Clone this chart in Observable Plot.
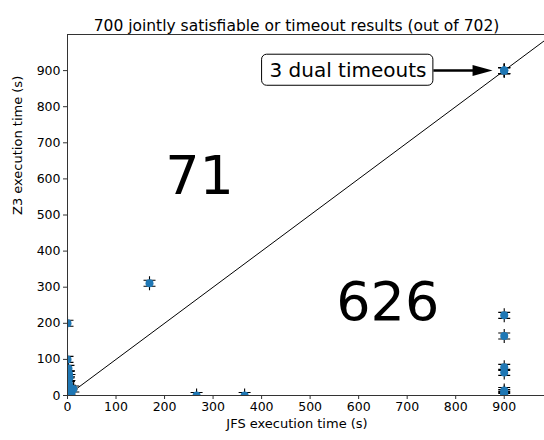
<!DOCTYPE html>
<html>
<head>
<meta charset="utf-8">
<script src="https://cdn.jsdelivr.net/npm/d3@7"></script>
<script src="https://cdn.jsdelivr.net/npm/@observablehq/plot@0.6"></script>
<style>
  html, body { margin: 0; padding: 0; background: white; }
</style>
</head>
<body>
<div id="chart"></div>
<script>
// ---- data ----
const titleText = "700 jointly satisfiable or timeout results (out of 702)";
const xLabel = "JFS execution time (s)";
const yLabel = "Z3 execution time (s)";
const xTicks = [0, 100, 200, 300, 400, 500, 600, 700, 800, 900];
const yTicks = [0, 100, 200, 300, 400, 500, 600, 700, 800, 900];

// JFS time, Z3 time (seconds)
const jfsTimes = [0, 0, 2, 3, 4, 2, 3, 5, 4, 3, 2, 8, 12, 169, 266, 365,
                  900, 900, 900, 900, 900, 900, 900, 900, 900, 900, 900];
const z3Times  = [200, 100, 75, 60, 50, 40, 30, 20, 12, 5, 0, 8, 18, 311, 0, 0,
                  222, 165, 78, 64, 14, 8, 3, 0, 900, 900, 900];

const diagX = [10, 983];
const diagY = [10, 983];

const regionCounts = ["71", "626"];
const regionX = [272, 660];
const regionY = [605, 258];

const annotText = ["3 dual timeouts"];
const annotBox = {x1: 401, x2: 754, y1: 858, y2: 944};
const annotTextPos = {x: 578, y: 900};
const arrowShaft = {x1: 754, x2: 836, y: 900};
const arrowTip = {x: 876, y: 900};

// ---- build ----
const points = jfsTimes.map((x, i) => ({x, y: z3Times[i]}));
const diag = diagX.map((x, i) => ({x, y: diagY[i]}));
const counts = regionCounts.map((t, i) => ({t, x: regionX[i], y: regionY[i]}));

const errGlyph = {
  draw(ctx) {
    ctx.moveTo(0, -7); ctx.lineTo(0, 7);
    ctx.moveTo(-6, -3); ctx.lineTo(6, -3);
    ctx.moveTo(-6, 3); ctx.lineTo(6, 3);
  }
};
const headGlyph = {
  draw(ctx) {
    ctx.moveTo(0, 0); ctx.lineTo(-20, -5.5); ctx.lineTo(-20, 5.5); ctx.closePath();
  }
};

const chart = Plot.plot({
  width: 544,
  height: 440,
  marginLeft: 67,
  marginRight: 0,
  marginTop: 34,
  marginBottom: 45,
  x: {domain: [0, 983]},
  y: {domain: [0, 1000]},
  style: {fontFamily: "DejaVu Sans", fontSize: "13px", color: "black", background: "white", overflow: "visible"},
  marks: [
    Plot.axisX({ticks: xTicks, tickSize: 4, tickPadding: 3, label: null, stroke: "#333", fontSize: 12.5}),
    Plot.axisY({ticks: yTicks, tickSize: 4, tickPadding: 3, label: null, stroke: "#333", fontSize: 12.5}),
    Plot.line(diag, {x: "x", y: "y", stroke: "black", strokeWidth: 1, clip: true}),
    Plot.dot(points, {x: "x", y: "y", symbol: errGlyph, r: 5, fill: "none", stroke: "black", strokeWidth: 1.1, clip: true}),
    Plot.dot(points, {x: "x", y: "y", r: 4, fill: "#1f77b4", stroke: "none", clip: true}),
    Plot.text(counts, {x: "x", y: "y", text: "t", fontSize: 54, fill: "black"}),
    Plot.rect([annotBox], {x1: "x1", x2: "x2", y1: "y1", y2: "y2", fill: "white", stroke: "black", strokeWidth: 1, rx: 5}),
    Plot.text(annotText, {x: () => annotTextPos.x, y: () => annotTextPos.y, text: d => d, fontSize: 20, fill: "black"}),
    Plot.link([arrowShaft], {x1: "x1", x2: "x2", y1: "y", y2: "y", stroke: "black", strokeWidth: 2.5}),
    Plot.dot([arrowTip], {x: "x", y: "y", symbol: headGlyph, r: 5, fill: "black", stroke: "none"}),
    Plot.frame({stroke: "#333", strokeWidth: 1}),
    Plot.text([titleText], {frameAnchor: "top-left", dx: 229, dy: -15, textAnchor: "middle", fontSize: 15.5, fill: "black"}),
    Plot.text([xLabel], {frameAnchor: "bottom", dx: -9, dy: 32, fontSize: 13, fill: "black"}),
    Plot.text([yLabel], {frameAnchor: "left", rotate: -90, dx: -50, fontSize: 13, fill: "black"})
  ]
});
document.getElementById("chart").appendChild(chart);
</script>
</body>
</html>
